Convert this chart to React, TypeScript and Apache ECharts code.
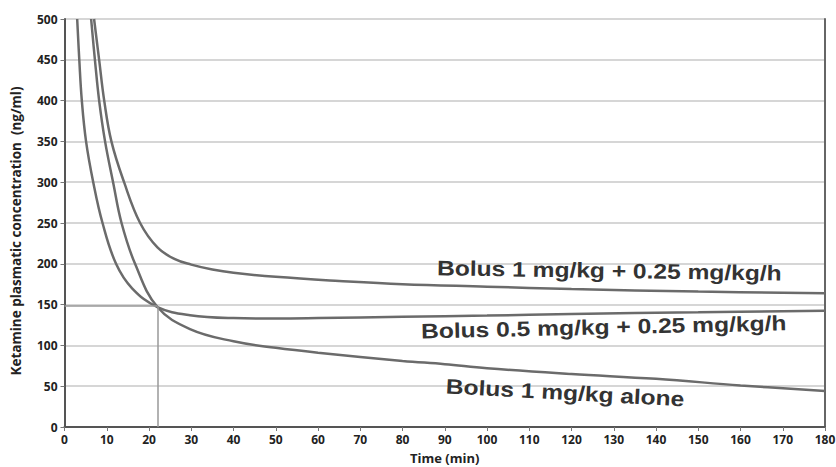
import React, { useEffect, useRef } from 'react';
import * as echarts from 'echarts';

// Series names / annotation texts
const seriesNames = [
  'Bolus 1 mg/kg + 0.25 mg/kg/h',
  'Bolus 0.5 mg/kg + 0.25 mg/kg/h',
  'Bolus 1 mg/kg alone',
];

// Bolus 1 mg/kg + 0.25 mg/kg/h
const timeA = [7.0, 8.2, 9.4, 11.1, 14.1, 17.9, 22, 26, 30, 35, 40, 50, 65, 80, 100, 120, 150, 180];
const concA = [500, 450, 400, 350, 300, 250, 220, 206, 199, 193, 189, 184, 179, 175, 172, 169, 166, 164];

// Bolus 0.5 mg/kg + 0.25 mg/kg/h
const timeC = [3.0, 3.5, 4.1, 5.1, 6.8, 9.0, 12.2, 16, 22, 29.7, 40, 50, 60, 80, 100, 120, 150, 180];
const concC = [500, 450, 400, 350, 300, 250, 200, 170, 147, 137, 133.5, 133, 133.5, 135, 136.5, 138.5, 140.5, 142.5];

// Bolus 1 mg/kg alone
const timeB = [6.3, 7.2, 8.2, 9.6, 11.5, 13.5, 16.7, 22, 29.7, 40, 50, 60, 80, 90, 100, 120, 140, 160, 180];
const concB = [500, 450, 400, 350, 300, 250, 200, 147, 120, 105, 97, 91, 81, 77, 72, 65, 59, 51, 44];

// Crossing reference lines
const crossTime = 22;
const crossConc = 148;

// Annotation anchors (data coordinates) and slopes (radians)
const labelTimes = [88.2, 84.4, 90.3];
const labelConcs = [195, 117.6, 50.2];
const labelRotations = [-0.015, 0.022, -0.055];

// Axes
const xMin = 0, xMax = 180, xStep = 10;
const yMin = 0, yMax = 500, yStep = 50;

const zip = (t: number[], c: number[]) => t.map((v, i) => [v, c[i]]);

export default function App() {
  const ref = useRef<HTMLDivElement>(null);
  useEffect(() => {
    if (!ref.current) return;
    const chart = echarts.init(ref.current, undefined, { renderer: 'svg' });
    const lineColor = '#6b6b6b';
    const axisText = { color: '#222', fontFamily: 'Open Sans', fontWeight: 'bold' as const, fontSize: 12 };
    const mkSeries = (name: string, data: number[][]) => ({
      name,
      type: 'line',
      data,
      showSymbol: false,
      smooth: 0.4,
      lineStyle: { color: lineColor, width: 2.5 },
      z: 3,
    });
    chart.setOption({
      animation: false,
      grid: { left: 64.5, right: 11, top: 19, bottom: 40, containLabel: false, outerBoundsMode: 'none' },
      xAxis: {
        type: 'value',
        min: xMin,
        max: xMax,
        interval: xStep,
        name: 'Time (min)',
        nameLocation: 'middle',
        nameGap: 24,
        nameTextStyle: { ...axisText, fontSize: 13 },
        axisLine: { lineStyle: { color: '#555', width: 2 } },
        axisTick: { show: true, length: 4, lineStyle: { color: '#777' } },
        axisLabel: { ...axisText, margin: 6 },
        splitLine: { show: false },
      },
      yAxis: [
        {
          type: 'value',
          min: yMin,
          max: yMax,
          interval: yStep,
          name: 'Ketamine plasmatic concentration  (ng/ml)',
          nameLocation: 'middle',
          nameGap: 42,
          nameTextStyle: { ...axisText, fontSize: 13.5, padding: [0, 16, 0, 0] },
          axisLine: { show: true, lineStyle: { color: '#555', width: 2 } },
          axisTick: { show: true, length: 4, lineStyle: { color: '#777' } },
          axisLabel: { ...axisText, margin: 7 },
          splitLine: { lineStyle: { color: '#c8c8c8', width: 1.5 } },
        },
        {
          type: 'value',
          position: 'right',
          min: yMin,
          max: yMax,
          interval: yStep,
          axisLine: { show: true, lineStyle: { color: '#666', width: 2 } },
          axisTick: { show: false },
          axisLabel: { show: false },
          splitLine: { show: false },
        },
      ],
      series: [
        mkSeries(seriesNames[0], zip(timeA, concA)),
        mkSeries(seriesNames[1], zip(timeC, concC)),
        mkSeries(seriesNames[2], zip(timeB, concB)),
        {
          type: 'line',
          data: [],
          markLine: {
            silent: true,
            symbol: 'none',
            label: { show: false },
            lineStyle: { color: '#999', width: 1.5, type: 'solid' },
            data: [
              [{ coord: [crossTime, yMin] }, { coord: [crossTime, crossConc] }],
              [{ coord: [xMin, crossConc] }, { coord: [crossTime, crossConc] }],
            ],
          },
        },
      ],
    });
    const graphics = seriesNames.map((txt, i) => {
      const p = chart.convertToPixel({ gridIndex: 0 }, [labelTimes[i], labelConcs[i]]) as number[];
      return {
        type: 'text',
        x: p[0],
        y: p[1],
        rotation: labelRotations[i],
        scaleX: 1.17,
        scaleY: 1,
        z: 10,
        style: {
          text: txt,
          font: 'bold 21px "Liberation Sans", Arial, sans-serif',
          fill: '#333',
          align: 'left',
          verticalAlign: 'middle',
        },
      };
    });
    chart.setOption({ graphic: graphics });
    return () => chart.dispose();
  }, []);
  return <div ref={ref} style={{ width: 836, height: 467, position: 'absolute', left: 0, top: 0 }} />;
}
